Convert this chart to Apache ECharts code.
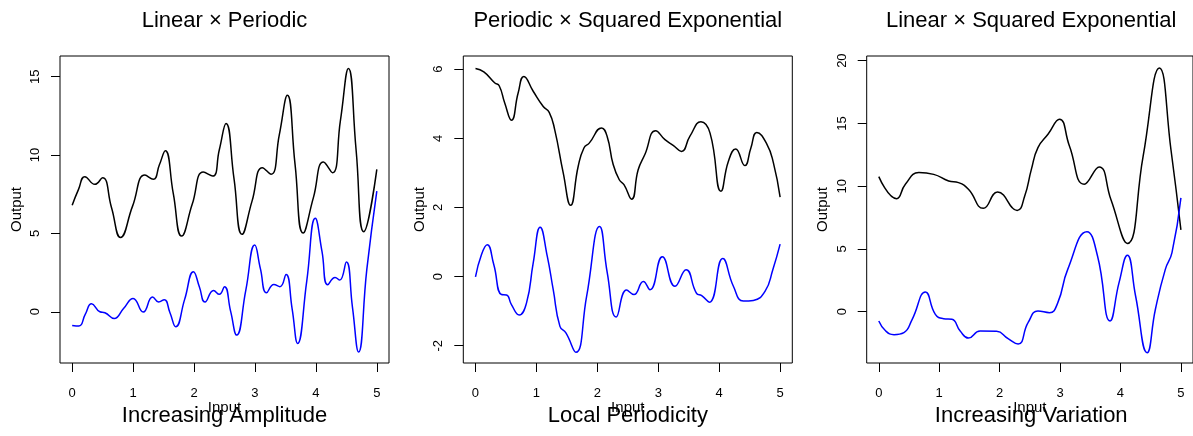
<!DOCTYPE html>
<html>
<head>
<meta charset="utf-8">
<script src="https://cdn.jsdelivr.net/npm/echarts@6/dist/echarts.min.js"></script>
<style>
  html, body { margin: 0; padding: 0; background: #fff; }
  #chart { width: 1193px; height: 436px; }
</style>
</head>
<body>
<div id="chart"></div>
<script>
// ---- data ----
const xTicks = [0, 1, 2, 3, 4, 5];
const yTicksA = [0, 5, 10, 15];
const yTicksB = [-2, 0, 2, 4, 6];
const yTicksC = [0, 5, 10, 15, 20];

const titles = ['Linear \u00d7 Periodic', 'Periodic \u00d7 Squared Exponential', 'Linear \u00d7 Squared Exponential'];
const subtitles = ['Increasing Amplitude', 'Local Periodicity', 'Increasing Variation'];

// Linear x Periodic
const linPerBlack = [[0,6.79],[0.104,7.81],[0.208,8.62],[0.372,8.13],[0.498,8.55],[0.646,6.64],[0.794,4.74],[0.991,6.74],[1.194,8.72],[1.331,8.45],[1.43,9.36],[1.528,10.28],[1.659,7.55],[1.796,4.83],[1.971,6.87],[2.152,8.91],[2.306,8.66],[2.415,10.34],[2.525,12.02],[2.656,8.49],[2.788,4.94],[2.952,7.06],[3.122,9.19],[3.264,8.77],[3.40,11.3],[3.532,13.81],[3.658,9.40],[3.790,5.02],[3.959,7.28],[4.124,9.55],[4.272,8.87],[4.403,12.21],[4.534,15.53],[4.660,10.32],[4.786,5.11],[5.0,9.09]];
const linPerBlue = [[0,-0.87],[0.11,-0.91],[0.214,-0.17],[0.318,0.51],[0.455,0.0],[0.537,-0.06],[0.69,-0.43],[0.843,0.21],[1.0,0.85],[1.166,-0.02],[1.32,0.94],[1.418,0.62],[1.51,0.77],[1.605,-0.06],[1.70,-0.96],[1.846,0.79],[1.99,2.55],[2.087,1.6],[2.18,0.62],[2.32,1.36],[2.415,1.11],[2.50,1.60],[2.60,0.04],[2.70,-1.49],[2.85,1.38],[2.996,4.26],[3.09,2.74],[3.19,1.21],[3.31,1.74],[3.41,1.60],[3.51,2.38],[3.61,0.19],[3.70,-2.02],[3.85,1.96],[3.99,5.96],[4.10,3.85],[4.195,1.72],[4.315,2.19],[4.39,2.02],[4.50,3.17],[4.60,0.30],[4.70,-2.57],[4.836,2.70],[5.0,7.70]];

// Periodic x Squared Exponential
const perSeBlack = [[0,6.02],[0.137,5.92],[0.318,5.60],[0.389,5.52],[0.48,5.02],[0.591,4.52],[0.70,5.31],[0.794,5.79],[0.947,5.36],[1.112,4.92],[1.21,4.75],[1.30,4.25],[1.44,3.00],[1.561,2.06],[1.686,3.19],[1.78,3.72],[1.867,3.86],[2.07,4.30],[2.16,4.06],[2.26,3.24],[2.36,2.80],[2.437,2.66],[2.563,2.24],[2.67,3.09],[2.78,3.53],[2.957,4.22],[3.11,3.96],[3.25,3.79],[3.38,3.62],[3.52,4.06],[3.70,4.48],[3.85,4.15],[4.03,2.47],[4.15,3.33],[4.27,3.69],[4.42,3.21],[4.52,3.72],[4.617,4.17],[4.78,3.84],[4.89,3.29],[5.0,2.30]];
const perSeBlue = [[0,-0.01],[0.099,0.64],[0.192,0.92],[0.30,0.35],[0.427,-0.52],[0.509,-0.53],[0.59,-0.81],[0.717,-1.11],[0.838,-0.76],[0.947,0.39],[1.062,1.43],[1.178,0.59],[1.276,-0.38],[1.386,-1.44],[1.484,-1.63],[1.648,-2.19],[1.824,-0.57],[2.037,1.45],[2.163,0.11],[2.311,-1.17],[2.48,-0.39],[2.60,-0.52],[2.755,-0.14],[2.864,-0.38],[3.067,0.57],[3.275,-0.28],[3.456,0.20],[3.63,-0.49],[3.713,-0.55],[3.839,-0.74],[4.058,0.52],[4.233,-0.28],[4.397,-0.71],[4.56,-0.69],[4.754,-0.42],[4.88,0.20],[5.0,0.94]];

// Linear x Squared Exponential
const linSeBlack = [[0,10.76],[0.296,9.00],[0.44,10.15],[0.663,11.08],[0.909,10.94],[1.156,10.41],[1.32,10.28],[1.484,9.75],[1.73,8.23],[1.966,9.54],[2.29,8.07],[2.415,9.22],[2.525,11.34],[2.634,13.07],[2.80,14.13],[2.99,15.33],[3.155,13.2],[3.40,10.15],[3.647,11.53],[3.84,8.95],[4.113,5.44],[4.375,12.4],[4.644,19.42],[4.836,12.88],[5.0,6.51]];
const linSeBlue = [[0,-0.74],[0.115,-1.54],[0.252,-1.83],[0.416,-1.67],[0.553,-0.61],[0.772,1.57],[0.936,-0.21],[1.073,-0.56],[1.21,-0.61],[1.347,-1.54],[1.484,-2.10],[1.676,-1.54],[1.95,-1.57],[2.14,-2.15],[2.306,-2.58],[2.47,-0.88],[2.634,0.05],[2.826,-0.08],[2.963,0.72],[3.127,3.37],[3.445,6.37],[3.62,4.44],[3.828,-0.74],[3.976,2.31],[4.113,4.49],[4.25,1.25],[4.44,-3.27],[4.578,0.19],[4.742,3.37],[4.852,4.70],[5.0,9.06]];

// ---- layout ----
const FONT = '"Liberation Sans", Arial, Helvetica, sans-serif';
const panels = [
  { left: 60,    yMin: -3.27, yMax: 16.32, yTicks: yTicksA, black: linPerBlack, blue: linPerBlue },
  { left: 463.3, yMin: -2.5,  yMax: 6.38,  yTicks: yTicksB, black: perSeBlack,  blue: perSeBlue },
  { left: 866.7, yMin: -4.09, yMax: 20.37, yTicks: yTicksC, black: linSeBlack,  blue: linSeBlue }
];
const PLOT_TOP = 56, PLOT_W = 329, PLOT_H = 307;

const grid = [], xAxis = [], yAxis = [], series = [], graphic = [];
panels.forEach((p, i) => {
  grid.push({ left: p.left, top: PLOT_TOP, width: PLOT_W, height: PLOT_H,
    show: true, borderColor: '#000', borderWidth: 1, backgroundColor: 'transparent' });
  xAxis.push({
    type: 'value', gridIndex: i, min: -0.2, max: 5.2, position: 'bottom',
    axisLine: { show: false, onZero: false },
    axisTick: { show: true, customValues: xTicks, length: 9, lineStyle: { color: '#000', width: 1 } },
    axisLabel: { customValues: xTicks, margin: 24, fontSize: 13, color: '#000', fontFamily: FONT },
    splitLine: { show: false },
    name: 'Input', nameLocation: 'middle', nameGap: 37, nameMoveOverlap: false,
    nameTextStyle: { fontSize: 15, color: '#000', fontFamily: FONT }
  });
  yAxis.push({
    type: 'value', gridIndex: i, min: p.yMin, max: p.yMax, position: 'left',
    axisLine: { show: false, onZero: false },
    axisTick: { show: true, customValues: p.yTicks, length: 9, lineStyle: { color: '#000', width: 1 } },
    axisLabel: { customValues: p.yTicks, rotate: 90, margin: 18, fontSize: 13, color: '#000', fontFamily: FONT },
    splitLine: { show: false },
    name: 'Output', nameLocation: 'middle', nameGap: 36, nameRotate: 90, nameMoveOverlap: false,
    nameTextStyle: { fontSize: 15, color: '#000', fontFamily: FONT }
  });
  series.push({ type: 'line', xAxisIndex: i, yAxisIndex: i, data: p.black, smooth: 0.5,
    symbol: 'none', lineStyle: { color: '#000', width: 1.5 }, animation: false });
  series.push({ type: 'line', xAxisIndex: i, yAxisIndex: i, data: p.blue, smooth: 0.5,
    symbol: 'none', lineStyle: { color: '#0000ff', width: 1.5 }, animation: false });
  const cx = p.left + PLOT_W / 2;
  graphic.push({ type: 'text', x: cx, y: 9.5,
    style: { text: titles[i], fontSize: 22, fontFamily: FONT, fill: '#000', align: 'center', verticalAlign: 'top' } });
  graphic.push({ type: 'text', x: cx, y: 405,
    style: { text: subtitles[i], fontSize: 22, fontFamily: FONT, fill: '#000', align: 'center', verticalAlign: 'top' } });
});

const chart = echarts.init(document.getElementById('chart'), null, { renderer: 'canvas' });
chart.setOption({ animation: false, backgroundColor: '#fff', grid, xAxis, yAxis, series, graphic });
</script>
</body>
</html>
